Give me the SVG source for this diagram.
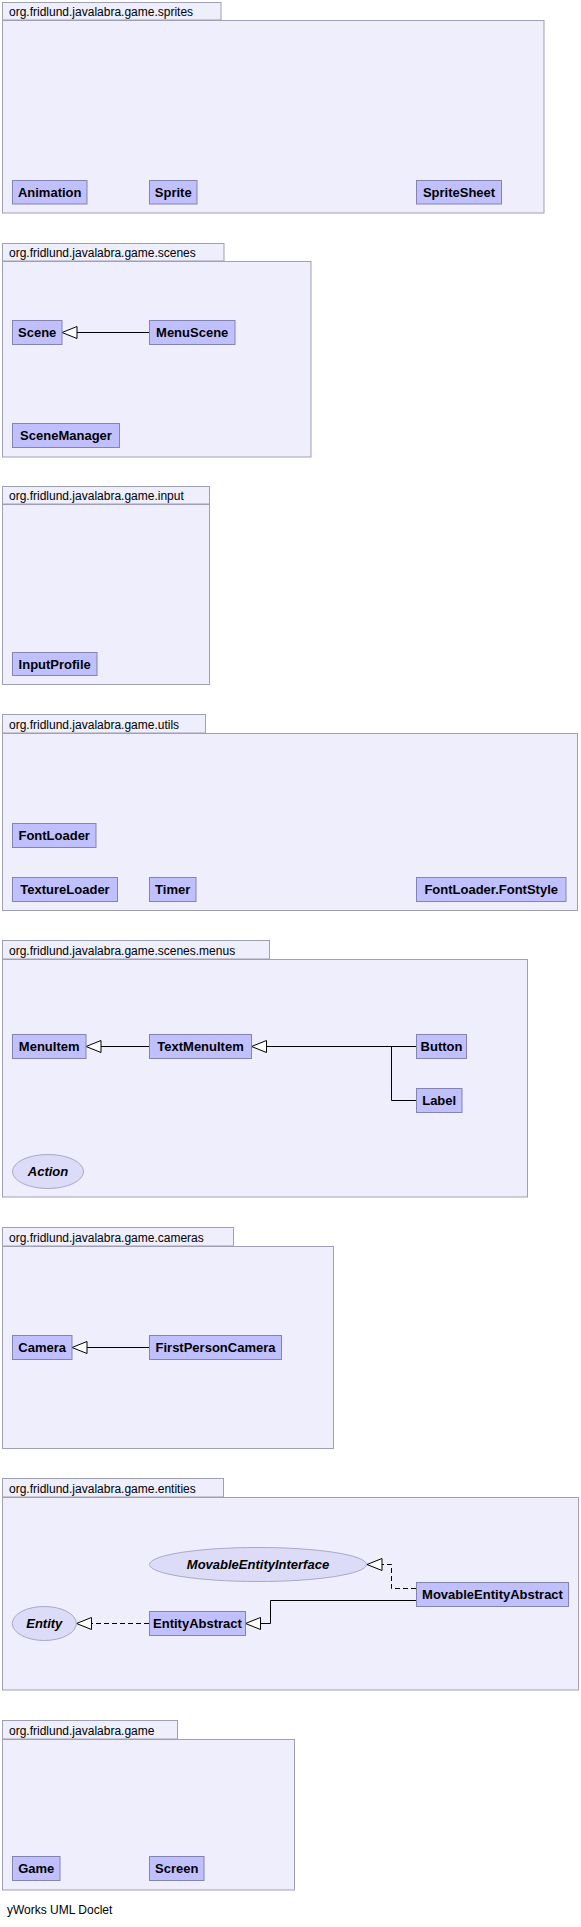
<svg xmlns="http://www.w3.org/2000/svg" width="581" height="1927" viewBox="0 0 581 1927">
<defs>
<marker id="gen" viewBox="0 0 16 13" refX="15.5" refY="6.5" markerWidth="16" markerHeight="13" markerUnits="userSpaceOnUse" orient="auto">
<path d="M15.5,6.5 L0.5,0.5 L0.5,12.5 Z" fill="#FFFFFF" stroke="#000000" stroke-width="1" stroke-dasharray="none"/>
</marker>
<style>
.pkg{fill:#EEEEFC;stroke:#A0A0B4;stroke-width:1}
.pl{font-family:"Liberation Sans",Arial,sans-serif;font-size:12px;fill:#000}
.cls{fill:#C0C0FF;stroke:#8484B0;stroke-width:1}
.ifc{fill:#DCDCF8;stroke:#A8A8C8;stroke-width:1}
.cl{font-family:"Liberation Sans",Arial,sans-serif;font-size:13px;font-weight:bold;fill:#000;text-anchor:middle}
.il{font-family:"Liberation Sans",Arial,sans-serif;font-size:13px;font-weight:bold;font-style:italic;fill:#000;text-anchor:middle}
.e{fill:none;stroke:#000;stroke-width:1}
.d{stroke-dasharray:5,3}
</style>
</defs>
<rect width="581" height="1927" fill="#FFFFFF"/>

<g id="pkg-sprites">
<rect class="pkg" x="2.5" y="2.5" width="218.5" height="17.5"/>
<rect class="pkg" x="2.5" y="20.5" width="541.5" height="192.5"/>
<text class="pl" x="9" y="16">org.fridlund.javalabra.game.sprites</text>
</g>
<g id="pkg-scenes">
<rect class="pkg" x="2.5" y="243.5" width="221.5" height="17.5"/>
<rect class="pkg" x="2.5" y="261.5" width="308.5" height="195.5"/>
<text class="pl" x="9" y="257">org.fridlund.javalabra.game.scenes</text>
</g>
<g id="pkg-input">
<rect class="pkg" x="2.5" y="486.5" width="207" height="17.5"/>
<rect class="pkg" x="2.5" y="504.5" width="207" height="180"/>
<text class="pl" x="9" y="500">org.fridlund.javalabra.game.input</text>
</g>
<g id="pkg-utils">
<rect class="pkg" x="2.5" y="714.5" width="203" height="18.5"/>
<rect class="pkg" x="2.5" y="733.5" width="575" height="177"/>
<text class="pl" x="9" y="729">org.fridlund.javalabra.game.utils</text>
</g>
<g id="pkg-menus">
<rect class="pkg" x="2.5" y="940.5" width="267" height="18.5"/>
<rect class="pkg" x="2.5" y="959.5" width="525" height="237.5"/>
<text class="pl" x="9" y="955">org.fridlund.javalabra.game.scenes.menus</text>
</g>
<g id="pkg-cameras">
<rect class="pkg" x="2.5" y="1227.5" width="231" height="18.5"/>
<rect class="pkg" x="2.5" y="1246.5" width="331" height="202"/>
<text class="pl" x="9" y="1242">org.fridlund.javalabra.game.cameras</text>
</g>
<g id="pkg-entities">
<rect class="pkg" x="2.5" y="1478.5" width="221" height="18.5"/>
<rect class="pkg" x="2.5" y="1497.5" width="576" height="192.5"/>
<text class="pl" x="9" y="1493">org.fridlund.javalabra.game.entities</text>
</g>
<g id="pkg-game">
<rect class="pkg" x="2.5" y="1720.5" width="175" height="18.5"/>
<rect class="pkg" x="2.5" y="1739.5" width="292" height="150.5"/>
<text class="pl" x="9" y="1735">org.fridlund.javalabra.game</text>
</g>

<g id="connectors">
<line class="e" x1="149" y1="332.5" x2="62" y2="332.5" marker-end="url(#gen)"/>
<line class="e" x1="149" y1="1046.5" x2="86" y2="1046.5" marker-end="url(#gen)"/>
<line class="e" x1="416" y1="1046.5" x2="251.5" y2="1046.5" marker-end="url(#gen)"/>
<polyline class="e" points="416,1100.5 391.5,1100.5 391.5,1046.5"/>
<line class="e" x1="149" y1="1347.5" x2="72" y2="1347.5" marker-end="url(#gen)"/>
<line class="e d" x1="149" y1="1623.5" x2="76.5" y2="1623.5" marker-end="url(#gen)"/>
<polyline class="e" points="416,1600.5 270.5,1600.5 270.5,1623.5 245.5,1623.5" marker-end="url(#gen)"/>
<polyline class="e d" points="416,1588.5 391.5,1588.5 391.5,1564.5 367,1564.5" marker-end="url(#gen)"/>
</g>

<g id="Animation"><rect class="cls" x="12.5" y="180.5" width="74.5" height="23.5"/><text class="cl" x="49.7" y="197">Animation</text></g>
<g id="Sprite"><rect class="cls" x="149.5" y="180.5" width="47.5" height="23.5"/><text class="cl" x="173.2" y="197">Sprite</text></g>
<g id="SpriteSheet"><rect class="cls" x="416.5" y="180.5" width="85" height="23.5"/><text class="cl" x="459" y="197">SpriteSheet</text></g>

<g id="Scene"><rect class="cls" x="12.5" y="320.5" width="49.5" height="24"/><text class="cl" x="37.2" y="337">Scene</text></g>
<g id="MenuScene"><rect class="cls" x="149.5" y="320.5" width="85.5" height="24"/><text class="cl" x="192.2" y="337">MenuScene</text></g>
<g id="SceneManager"><rect class="cls" x="12.5" y="423.5" width="107" height="24"/><text class="cl" x="66" y="440">SceneManager</text></g>

<g id="InputProfile"><rect class="cls" x="12.5" y="652.5" width="84.5" height="23"/><text class="cl" x="54.7" y="668.5">InputProfile</text></g>

<g id="FontLoader"><rect class="cls" x="12.5" y="823.5" width="83.5" height="24"/><text class="cl" x="54.2" y="840">FontLoader</text></g>
<g id="TextureLoader"><rect class="cls" x="12.5" y="877.5" width="105" height="24"/><text class="cl" x="65" y="894">TextureLoader</text></g>
<g id="Timer"><rect class="cls" x="149.5" y="877.5" width="46.5" height="24"/><text class="cl" x="172.7" y="894">Timer</text></g>
<g id="FontLoader.FontStyle"><rect class="cls" x="416.5" y="877.5" width="149.5" height="24"/><text class="cl" x="491.2" y="894">FontLoader.FontStyle</text></g>

<g id="MenuItem"><rect class="cls" x="12.5" y="1034.5" width="73.5" height="24"/><text class="cl" x="49.2" y="1051">MenuItem</text></g>
<g id="TextMenuItem"><rect class="cls" x="149.5" y="1034.5" width="102" height="24"/><text class="cl" x="200.5" y="1051">TextMenuItem</text></g>
<g id="Button"><rect class="cls" x="416.5" y="1034.5" width="50" height="24"/><text class="cl" x="441.5" y="1051">Button</text></g>
<g id="Label"><rect class="cls" x="416.5" y="1088.5" width="45.5" height="24"/><text class="cl" x="439.2" y="1105">Label</text></g>
<g id="Action"><ellipse class="ifc" cx="48" cy="1171.5" rx="35.5" ry="17"/><text class="il" x="48" y="1176">Action</text></g>

<g id="Camera"><rect class="cls" x="12.5" y="1335.5" width="59.5" height="24"/><text class="cl" x="42.2" y="1352">Camera</text></g>
<g id="FirstPersonCamera"><rect class="cls" x="149.5" y="1335.5" width="132" height="24"/><text class="cl" x="215.5" y="1352">FirstPersonCamera</text></g>

<g id="MovableEntityInterface"><ellipse class="ifc" cx="258" cy="1564.5" rx="108.5" ry="17"/><text class="il" x="258" y="1569">MovableEntityInterface</text></g>
<g id="MovableEntityAbstract"><rect class="cls" x="416.5" y="1582.5" width="152" height="24"/><text class="cl" x="492.5" y="1599">MovableEntityAbstract</text></g>
<g id="Entity"><ellipse class="ifc" cx="44.3" cy="1623.5" rx="32" ry="17"/><text class="il" x="44.3" y="1628">Entity</text></g>
<g id="EntityAbstract"><rect class="cls" x="149.5" y="1611.5" width="96" height="24"/><text class="cl" x="197.5" y="1628">EntityAbstract</text></g>

<g id="Game"><rect class="cls" x="12.5" y="1856.5" width="47.5" height="24"/><text class="cl" x="36.2" y="1873">Game</text></g>
<g id="Screen"><rect class="cls" x="149.5" y="1856.5" width="54.5" height="24"/><text class="cl" x="176.7" y="1873">Screen</text></g>

<text class="pl" x="7" y="1914">yWorks UML Doclet</text>
</svg>
